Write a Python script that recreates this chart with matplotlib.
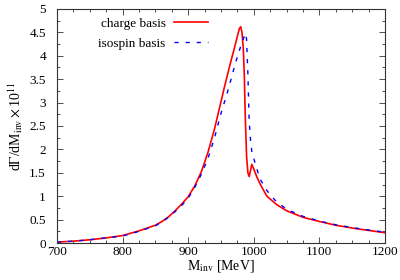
import matplotlib
matplotlib.use("Agg")
import matplotlib.pyplot as plt
from matplotlib.ticker import MultipleLocator

plt.rcParams['font.family'] = ['Liberation Serif', 'DejaVu Serif']
plt.rcParams['mathtext.fontset'] = 'stix'

# charge basis (red, solid)
x_charge = [700, 725, 750, 775, 800, 825, 850, 860, 870, 880, 890, 900, 910, 920,
            930, 940, 950, 955, 960, 965, 970, 975, 978, 980, 982, 984, 985.5, 987,
            989, 991, 993, 995, 997, 1000, 1005, 1010, 1020, 1035, 1050, 1075, 1100,
            1125, 1150, 1175, 1200]
y_charge = [0.02, 0.04, 0.07, 0.11, 0.16, 0.26, 0.38, 0.46, 0.56, 0.69, 0.83, 0.99,
            1.22, 1.52, 1.93, 2.43, 3.02, 3.32, 3.60, 3.88, 4.14, 4.42, 4.58, 4.62,
            4.50, 4.15, 3.60, 2.70, 1.85, 1.50, 1.42, 1.55, 1.68, 1.58, 1.40, 1.25,
            1.00, 0.82, 0.69, 0.55, 0.46, 0.38, 0.32, 0.27, 0.22]

# isospin basis (blue, dashed)
x_iso = [700, 725, 750, 775, 800, 825, 850, 860, 870, 880, 890, 900, 910, 920, 930,
         940, 946, 950, 955, 960, 965, 970, 975, 980, 985, 987.5, 989, 991, 993, 995,
         997, 1002, 1009, 1020, 1032, 1050, 1075, 1100, 1125, 1150, 1175, 1200]
y_iso = [0.02, 0.04, 0.07, 0.11, 0.15, 0.25, 0.37, 0.45, 0.55, 0.67, 0.80, 0.96, 1.19,
         1.47, 1.80, 2.24, 2.56, 2.77, 3.00, 3.23, 3.48, 3.74, 3.98, 4.20, 4.40, 4.48,
         4.35, 3.60, 2.60, 2.20, 1.95, 1.71, 1.38, 1.12, 0.92, 0.72, 0.57, 0.47, 0.39,
         0.33, 0.28, 0.23]

fig = plt.figure(figsize=(4.0, 2.8), dpi=100)
ax = fig.add_axes([0.1425, 0.132, 0.82, 0.836])

ax.plot(x_charge, y_charge, color='#ff0000', lw=1.2, label='charge basis')
ax.plot(x_iso, y_iso, color='#0000ff', lw=1.0, dashes=(3, 5), label='isospin basis')

ax.set_xlim(700, 1200)
ax.set_ylim(0, 5)
ax.xaxis.set_major_locator(MultipleLocator(100))
ax.xaxis.set_minor_locator(MultipleLocator(25))
ax.yaxis.set_major_locator(MultipleLocator(0.5))
ax.yaxis.set_minor_locator(MultipleLocator(0.25))
ax.set_yticks([0, 0.5, 1, 1.5, 2, 2.5, 3, 3.5, 4, 4.5, 5])
ax.set_yticklabels(['0', '0.5', '1', '1.5', '2', '2.5', '3', '3.5', '4', '4.5', '5'])

ax.tick_params(which='both', direction='in', top=True, right=True, colors='#333333',
               labelcolor='black', labelsize=9.5, width=0.6)
ax.tick_params(which='major', length=4)
ax.tick_params(which='minor', length=2)
ax.tick_params(axis='x', pad=2)
ax.tick_params(axis='y', pad=8)
for s in ax.spines.values():
    s.set_color('#333333')
    s.set_linewidth(0.8)

ax.set_xlabel(r'M$_{\rm inv}$ [MeV]', fontsize=10, labelpad=0)
ax.set_ylabel(r'd$\Gamma$/dM$_{\rm inv}\times$10$^{11}$', fontsize=10, labelpad=3)

leg = ax.legend(loc='upper left', bbox_to_anchor=(0.09, 1.015), frameon=False,
                markerfirst=False, fontsize=9.5, handlelength=2.6, handletextpad=0.6,
                labelspacing=0.6)

fig.savefig('out.png', dpi=100)
